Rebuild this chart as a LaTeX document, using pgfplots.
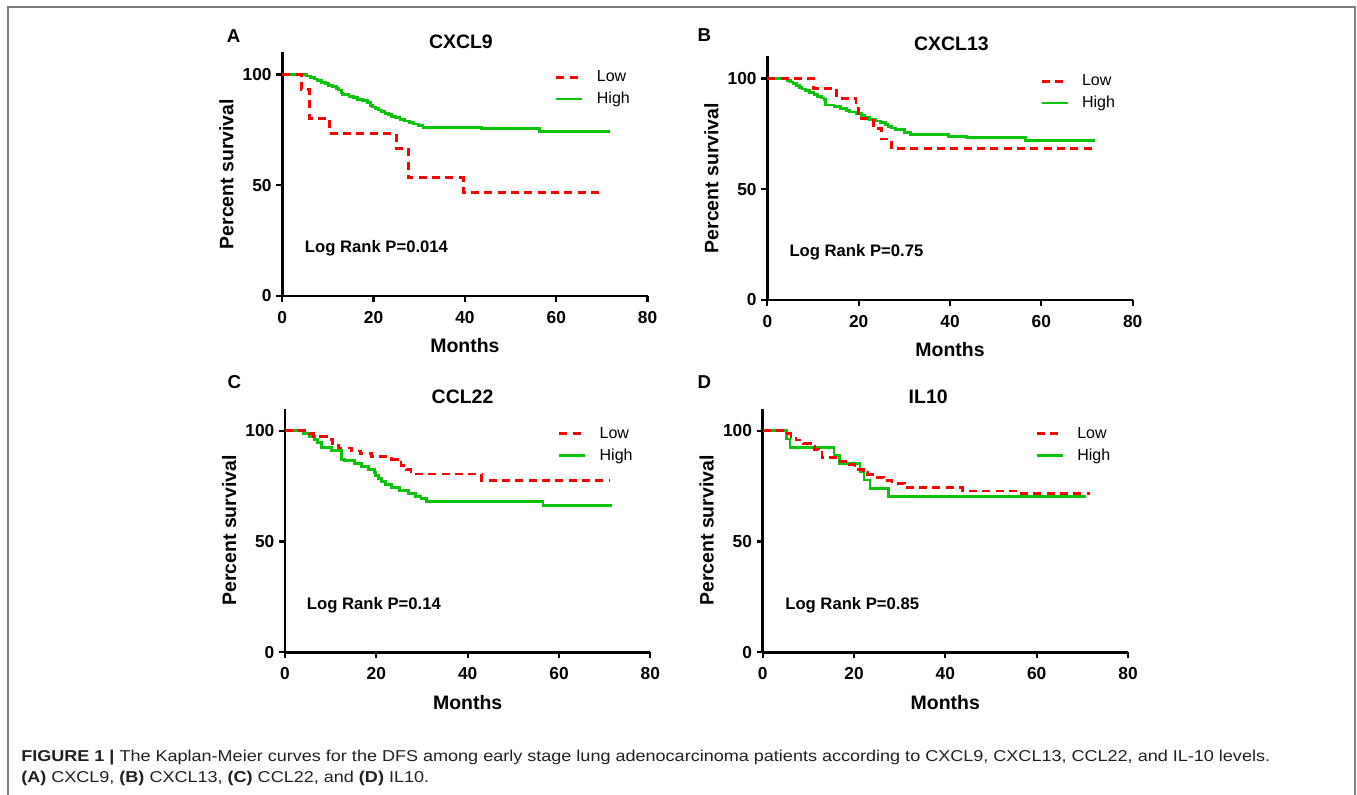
\documentclass[border=0pt]{standalone}
\usepackage{fontspec}
\setmainfont{Liberation Sans}
\newfontfamily\capfont{Liberation Sans}
\usepackage{graphicx}
\usepackage{pgfplots}
\pgfplotsset{compat=1.18}
\definecolor{kmgreen}{RGB}{10,196,10}
\definecolor{kmred}{RGB}{255,0,0}
\definecolor{framegray}{RGB}{125,125,125}
\definecolor{captext}{RGB}{35,31,32}
\newlength\capw
\newcommand\capone{\capfont\fontsize{11.8pt}{14pt}\selectfont\textbf{FIGURE 1 |} The Kaplan-Meier curves for the DFS among early stage lung adenocarcinoma patients according to CXCL9, CXCL13, CCL22, and IL-10 levels.}
\newcommand\captwo{\capfont\fontsize{11.8pt}{14pt}\selectfont\textbf{(A)} CXCL9, \textbf{(B)} CXCL13, \textbf{(C)} CCL22, and \textbf{(D)} IL10.}
\AtBeginDocument{\settowidth\capw{\capone}\pgfmathsetmacro\capsx{936.75/\capw}}
\tikzset{
 lr/.style={anchor=west, inner sep=0pt, font=\fontsize{12.5pt}{12.5pt}\selectfont\bfseries},
 plet/.style={anchor=west, inner sep=0pt, font=\fontsize{14pt}{14pt}\selectfont\bfseries},
}
\pgfplotsset{
 km/.style={
  scale only axis, width=274pt, height=182.8pt,
  xmin=0,xmax=80,ymin=0,ymax=110,
  axis lines=left, axis line style={-, line width=2.2pt, black},
  xtick={0,20,40,60,80}, ytick={0,50,100},
  tick align=outside, major tick length=4.5pt,
  tick style={black, line width=1.7pt},
  /pgf/number format/assume math mode=true,
  ticklabel style={font=\fontsize{13pt}{13pt}\selectfont\bfseries},
  xticklabel style={yshift=-3.5pt},
  label style={font=\fontsize{14.6pt}{15pt}\selectfont\bfseries},
  xlabel={Months}, ylabel={Percent survival},
  xlabel style={at={(axis description cs:0.5,-0.204)}, anchor=center},
  ylabel style={at={(axis description cs:-0.153,0.5)}, anchor=center},
  title style={font=\fontsize{14.6pt}{15pt}\selectfont\bfseries, anchor=center},
  legend style={at={(0.746,0.852)}, anchor=west, draw=none, fill=none, inner sep=0pt,
    font=\fontsize{12pt}{12pt}\selectfont, row sep=6.3pt, column sep=9.8pt, nodes={inner sep=0pt}},
  legend cell align=left,
  reverse legend,
  legend image code/.code={\draw[#1] (0pt,0pt) -- (19.5pt,0pt);},
  clip=false,
 },
 low/.style={const plot, color=kmred, line width=2.1pt, dash pattern=on 6pt off 4pt},
 high/.style={const plot, color=kmgreen, line width=2.1pt},
}
\begin{document}
\begin{tikzpicture}
\useasboundingbox (0pt,0pt) rectangle (1017.75pt,596.25pt);
\draw[framegray, line width=0.9pt] (6pt,-5pt) -- (6pt,591pt) -- (1016.25pt,591pt) -- (1016.25pt,-5pt);

% Panel A
\node[plet] at (170pt,569.25pt) {A};
\begin{axis}[km, at={(211.7pt,374.25pt)}, anchor=origin, title={CXCL9}, title style={at={(0.489,1.012)}}]
\addplot[high] coordinates {(0,100)(5.3,99.3)(6.2,98.6)(7.0,97.9)(7.8,97.2)(8.6,96.5)(9.4,95.8)(10.2,95.1)(11.0,94.4)(11.8,93.7)(12.4,93.0)(12.9,91.6)(13.2,90.9)(14.6,90.2)(15.6,89.5)(16.5,88.8)(17.6,88.1)(18.6,87.4)(19.3,86.0)(19.7,85.3)(20.4,84.6)(21.0,83.9)(21.8,83.2)(22.5,82.5)(23.2,81.8)(24.0,81.1)(24.8,80.4)(25.8,79.7)(26.8,79.0)(27.8,78.3)(28.7,77.6)(29.8,76.9)(30.8,76.2)(43.6,75.5)(56.4,74.2)(71.7,74.2)};
\addlegendentry{High}
\addplot[low] coordinates {(0,100)(4.2,93.3)(6.0,80.0)(10.4,73.3)(25.0,66.7)(27.6,53.3)(39.6,46.7)(70.3,46.7)};
\addlegendentry{Low}
\node[lr] at (axis cs:4.9,21.5) {Log Rank P=0.014};
\end{axis}

% Panel B
\node[plet] at (523pt,570pt) {B};
\begin{axis}[km, at={(575.5pt,371.25pt)}, anchor=origin, title={CXCL13}, title style={at={(0.504,1.017)}}]
\addplot[high] coordinates {(0,100)(4.3,99.2)(5.0,98.4)(5.6,97.6)(6.3,96.8)(7.0,96.0)(7.6,95.2)(8.3,94.4)(9.2,93.6)(10.2,92.8)(11.0,92.0)(11.8,91.2)(12.4,90.4)(12.8,88.0)(14.6,87.2)(16.0,86.4)(17.3,85.6)(18.0,84.8)(19.6,84.0)(20.6,83.2)(21.2,82.4)(22.4,81.6)(23.6,80.8)(24.8,80.0)(25.8,79.2)(26.4,78.4)(27.2,77.6)(28.0,76.8)(30.0,75.7)(31.4,74.7)(39.7,73.9)(43.6,73.2)(56.5,72.1)(71.8,72.1)};
\addlegendentry{High}
\addplot[low] coordinates {(0,100)(10.1,95.5)(15.2,90.9)(19.4,86.4)(20.0,81.8)(23.2,77.3)(25.0,72.7)(27.2,68.2)(71.1,68.2)};
\addlegendentry{Low}
\node[lr] at (axis cs:4.8,21.6) {Log Rank P=0.75};
\end{axis}

% Panel C
\node[plet] at (170.5pt,309.5pt) {C};
\begin{axis}[km, at={(213.75pt,107pt)}, anchor=origin, title={CCL22}, title style={at={(0.486,1.015)}}]
\addplot[high] coordinates {(0,100)(4.0,98.6)(5.4,97.3)(6.5,96.0)(7.2,94.6)(8.0,92.5)(10.2,91.2)(12.3,87.2)(13.0,86.5)(15.3,85.1)(16.8,83.8)(18.3,82.4)(19.6,81.1)(19.9,79.7)(20.5,78.4)(21.2,77.0)(22.0,75.7)(23.3,74.3)(25.1,73.0)(27.0,71.6)(28.6,70.3)(29.8,69.6)(31.0,68.2)(56.5,66.2)(71.7,66.2)};
\addlegendentry{High}
\addplot[low] coordinates {(0,100)(5.3,98.7)(6.3,97.4)(9.0,96.1)(10.4,93.5)(11.8,92.2)(14.6,90.9)(16.5,89.6)(19.0,88.3)(23.4,87.0)(24.6,85.7)(25.4,84.4)(26.6,82.6)(27.6,80.5)(43.1,77.6)(71.1,77.6)};
\addlegendentry{Low}
\node[lr] at (axis cs:4.75,21.3) {Log Rank P=0.14};
\end{axis}

% Panel D
\node[plet] at (523pt,309.5pt) {D};
\begin{axis}[km, at={(572pt,107pt)}, anchor=origin, title={IL10}, title style={at={(0.453,1.015)}}]
\addplot[high] coordinates {(0,100)(5.3,96.3)(6.0,92.6)(15.6,88.9)(16.9,85.2)(21.3,81.5)(22.2,77.8)(23.5,74.1)(27.5,70.4)(70.8,70.4)};
\addlegendentry{High}
\addplot[low] coordinates {(0,100)(4.9,98.6)(6.2,97.2)(7.3,95.8)(9.0,94.4)(10.4,93.0)(11.4,91.6)(12.2,90.2)(13.0,87.8)(17.0,86.2)(19.0,84.8)(20.2,82.5)(22.0,81.0)(23.0,80.3)(24.6,79.0)(26.5,77.5)(28.3,76.3)(31.0,74.3)(43.8,72.8)(56.6,71.7)(71.7,71.7)};
\addlegendentry{Low}
\node[lr] at (axis cs:4.9,21.3) {Log Rank P=0.85};
\end{axis}

% Caption
\node[anchor=base west, inner sep=0pt, text=captext] at (15.75pt,25pt) {\scalebox{\capsx}[1]{\capone}};
\node[anchor=base west, inner sep=0pt, text=captext] at (15.75pt,9.3pt) {\scalebox{\capsx}[1]{\captwo}};
\end{tikzpicture}
\end{document}
